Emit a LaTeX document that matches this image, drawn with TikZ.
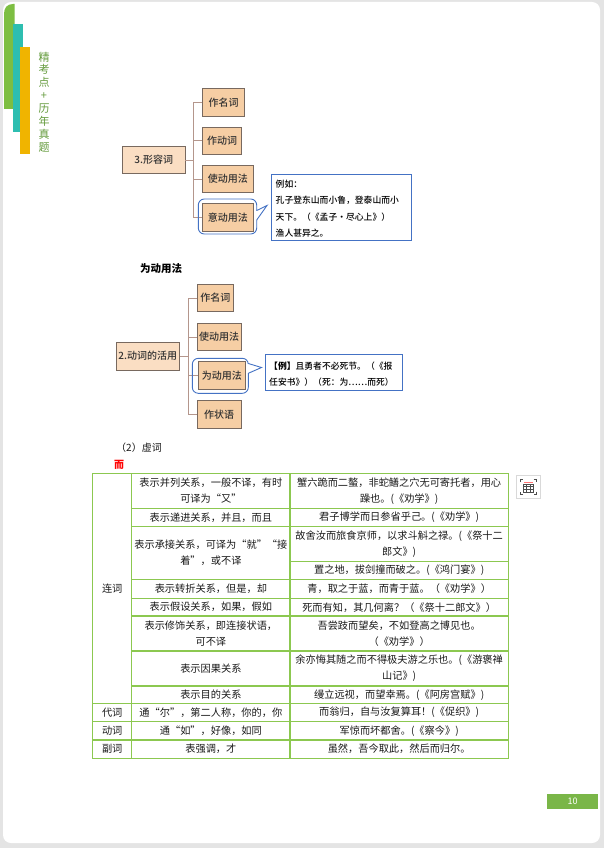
\documentclass[tikz,border=0pt]{standalone}
\usepackage{fontspec}
\newfontfamily\hei{Noto Sans CJK SC}
\IfFontExistsTF{Noto Sans CJK SC Medium}{\newfontfamily\heim{Noto Sans CJK SC Medium}}{\newfontfamily\heim{Noto Sans CJK SC}}
\IfFontExistsTF{FandolSong-Regular.otf}{\newfontfamily\song{FandolSong-Regular.otf}}{\newfontfamily\song{Noto Sans CJK SC}}
\IfFontExistsTF{FandolKai-Regular.otf}{\newfontfamily\kai{FandolKai-Regular.otf}}{\newfontfamily\kai{Noto Sans CJK SC}}
\definecolor{pagegrey}{RGB}{228,228,228}
\definecolor{sgreen}{RGB}{125,190,66}
\definecolor{steal}{RGB}{46,190,176}
\definecolor{syellow}{RGB}{240,180,0}
\definecolor{stext}{RGB}{100,155,60}
\definecolor{pfill}{RGB}{250,222,195}
\definecolor{cfill}{RGB}{246,206,164}
\definecolor{boxline}{RGB}{120,105,95}
\definecolor{connc}{RGB}{180,150,140}
\definecolor{hlblue}{RGB}{68,114,196}
\definecolor{tgreen}{RGB}{140,200,80}
\definecolor{pgreen}{RGB}{122,182,72}
\begin{document}
\begin{tikzpicture}[x=1pt,y=-1pt,
  tbox/.style={draw=boxline, line width=0.8pt, inner sep=0pt, font=\heim\fontsize{10}{12}\selectfont, text=black!80},
  pbox/.style={tbox, fill=pfill},
  cbox/.style={tbox, fill=cfill},
  conn/.style={draw=connc, line width=0.9pt},
  hl/.style={draw=hlblue, line width=0.9pt},
  callbox/.style={draw=hlblue, line width=0.9pt, fill=white, inner sep=0pt},
  calltext/.style={font=\heim\fontsize{8.8}{16.4}\selectfont, align=left, inner sep=0pt, anchor=west},
  cell/.style={font=\song\fontsize{10.2}{16}\selectfont, align=center, inner sep=0pt, text=black!90},
  tline/.style={draw=tgreen, line width=1.3pt}
]
\useasboundingbox (0,0) rectangle (604,848);
% page
\fill[pagegrey] (0,0) rectangle (604,848);
\fill[white, rounded corners=8pt] (3,2) rectangle (600,843);
% sidebar
\fill[sgreen] (14.7,109) -- (14.7,4) -- (13,4) .. controls (7,4) and (4,8) .. (4,14) -- (4,109) -- cycle;
\fill[steal] (13,24) rectangle (23,131.7);
\fill[syellow] (20,46.7) rectangle (30,154.3);
\node[font=\kai\fontsize{11}{12.9}\selectfont, text=stext, align=center, inner sep=0pt] (side) at (44,102) {精\\考\\点\\+\\历\\年\\真\\题};

% tree 1
\node[pbox, minimum width=62.7pt, minimum height=26.7pt] (p1) at (153.7,160) {3.形容词};
\node[cbox, minimum width=42.4pt, minimum height=27.7pt] (a1) at (223.5,102.2) {作名词};
\node[cbox, minimum width=39.4pt, minimum height=26.7pt] (a2) at (222,140.7) {作动词};
\node[cbox, minimum width=51pt, minimum height=26.7pt] (a3) at (227.8,179) {使动用法};
\node[cbox, minimum width=51pt, minimum height=27.7pt] (a4) at (227.8,217.2) {意动用法};
\coordinate (j1) at (193,160);
\draw[conn] (p1.east) -- (j1);
\foreach \c in {a1,a2,a3,a4} \draw[conn] (j1) |- (\c.west);
\draw[hl, rounded corners=6pt] (198.3,199) rectangle (256.7,234);
\fill[white] (255.6,210.5) rectangle (257.8,220);
\draw[hl, line join=miter] (256.7,210.5) -- (267,205.5) -- (256.7,220);
\node[callbox, minimum width=140pt, minimum height=66.7pt] (cb1) at (341.7,207.3) {};
\node[calltext] (t1) at (275.5,208.8) {例如：\\孔子登东山而小鲁，登泰山而小\\天下。（《孟子・尽心上》）\\渔人甚异之。};

% heading
\node[font=\hei\bfseries\fontsize{10.5}{12}\selectfont, anchor=west, inner sep=0pt] (h2) at (140,269) {为动用法};

% tree 2
\node[pbox, minimum width=63.3pt, minimum height=27.7pt] (p2) at (147.7,356.2) {2.动词的活用};
\node[cbox, minimum width=36pt, minimum height=27.4pt] (b1) at (215.3,298) {作名词};
\node[cbox, minimum width=43.7pt, minimum height=27.4pt] (b2) at (219.2,337) {使动用法};
\node[cbox, minimum width=47pt, minimum height=27.3pt] (b3) at (221.8,375.4) {为动用法};
\node[cbox, minimum width=43.7pt, minimum height=27.6pt] (b4) at (219.2,414.5) {作状语};
\coordinate (j2) at (188,356.2);
\draw[conn] (p2.east) -- (j2);
\foreach \c in {b1,b2,b3,b4} \draw[conn] (j2) |- (\c.west);
\draw[hl, rounded corners=6pt] (192.3,358.3) rectangle (248.3,393.3);
\fill[white] (247.2,363.5) rectangle (249.4,373.3);
\draw[hl, line join=miter] (248.3,363.5) -- (261.5,367.5) -- (248.3,373.3);
\node[callbox, minimum width=136.6pt, minimum height=36pt] (cb2) at (334,372) {};
\node[calltext] (t2) at (269,374) {{\hei\bfseries 【例】}且勇者不必死节。（《报\\任安书》）（死：为……而死）};

% section heading
\node[cell, font=\song\fontsize{10}{12}\selectfont, anchor=west] (h3) at (116,447.3) {（2）虚词};
\node[font=\hei\bfseries\fontsize{10}{10}\selectfont, text=red, inner sep=0pt] (er) at (119.2,465) {而};

% table lines
\draw[tline] (92.7,473.3) rectangle (508.3,758.3);
\draw[tline] (131.7,473.3) -- (131.7,758.3);
\draw[tline] (290,473.3) -- (290,758.3);
\foreach \yy in {508.3,526.7,579.3,598.3,616,651,686} \draw[tline] (131.7,\yy) -- (508.3,\yy);
\draw[tline] (290,561.7) -- (508.3,561.7);
\foreach \yy in {703.3,721.7,740} \draw[tline] (92.7,\yy) -- (508.3,\yy);

% col 1
\node[cell] (k1) at (112.2,588.3) {连词};
\node[cell] (k2) at (112.2,712.5) {代词};
\node[cell] (k3) at (112.2,730.9) {动词};
\node[cell] (k4) at (112.2,749.2) {副词};
% col 2
\node[cell] (m1) at (210.85,490.8) {表示并列关系，一般不译，有时\\可译为“又”};
\node[cell] (m2) at (210.85,517.5) {表示递进关系，并且，而且};
\node[cell] (m3) at (210.85,553) {表示承接关系，可译为“就”“接\\着”，或不译};
\node[cell] (m4) at (210.85,588.8) {表示转折关系，但是，却};
\node[cell] (m5) at (210.85,607.2) {表示假设关系，如果，假如};
\node[cell] (m6) at (210.85,633.5) {表示修饰关系，即连接状语，\\可不译};
\node[cell] (m7) at (210.85,668.5) {表示因果关系};
\node[cell] (m8) at (210.85,694.7) {表示目的关系};
\node[cell] (m9) at (210.85,712.5) {通“尔”，第二人称，你的，你};
\node[cell] (m10) at (210.85,730.9) {通“如”，好像，如同};
\node[cell] (m11) at (210.85,749.2) {表强调，才};
% col 3
\node[cell] (n1) at (399.15,490.8) {蟹六跪而二螯，非蛇鳝之穴无可寄托者，用心\\躁也。(《劝学》)};
\node[cell] (n2) at (399.15,517.5) {君子博学而日参省乎己。(《劝学》)};
\node[cell] (n3) at (399.15,544.2) {故舍汝而旅食京师，以求斗斛之禄。(《祭十二\\郎文》)};
\node[cell] (n3b) at (399.15,570.5) {置之地，拔剑撞而破之。(《鸿门宴》)};
\node[cell] (n4) at (399.15,588.8) {青，取之于蓝，而青于蓝。（《劝学》）};
\node[cell] (n5) at (399.15,607.2) {死而有知，其几何离？（《祭十二郎文》）};
\node[cell] (n6) at (399.15,633.5) {吾尝跂而望矣，不如登高之博见也。\\（《劝学》）};
\node[cell] (n7) at (399.15,668.5) {余亦悔其随之而不得极夫游之乐也。(《游褒禅\\山记》)};
\node[cell] (n8) at (399.15,694.7) {缦立远视，而望幸焉。(《阿房宫赋》)};
\node[cell] (n9) at (399.15,712.5) {而翁归，自与汝复算耳！(《促织》)};
\node[cell] (n10) at (399.15,730.9) {军惊而坏都舍。(《察今》)};
\node[cell] (n11) at (399.15,749.2) {虽然，吾今取此，然后而归尔。};

% icon
\draw[draw=black!15, fill=white, line width=0.8pt] (516.5,475) rectangle (540,498.5);
\draw[draw=red!55, line width=0.8pt] (523.5,482.5) -- (533,482.5);
\draw[draw=black!70, line width=0.6pt] (523.5,484) rectangle (533,492);
\draw[draw=black!70, line width=0.6pt] (526.7,484) -- (526.7,492) (529.8,484) -- (529.8,492) (523.5,486.7) -- (533,486.7) (523.5,489.3) -- (533,489.3);
\draw[draw=black!70, line width=0.6pt] (520.5,482) -- (520.5,479.5) -- (523,479.5) (533.5,479.5) -- (536,479.5) -- (536,482) (536,491.5) -- (536,494) -- (533.5,494) (523,494) -- (520.5,494) -- (520.5,491.5);

% page number
\node[fill=pgreen, minimum width=51.6pt, minimum height=14.7pt, inner sep=0pt, text=white, font=\hei\fontsize{9}{10}\selectfont] (pn) at (572.5,801.3) {10};
\end{tikzpicture}
\end{document}
